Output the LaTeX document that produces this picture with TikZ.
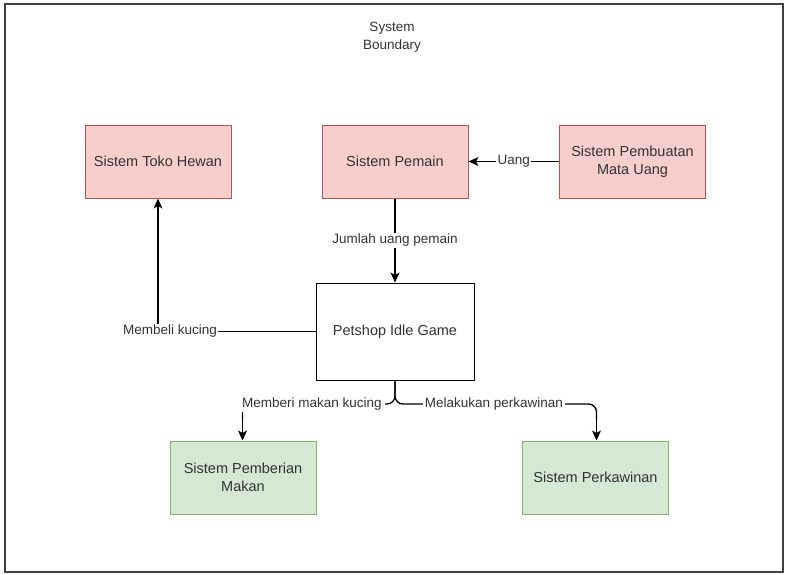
\documentclass[tikz,border=0pt]{standalone}
\usepackage{fontspec}
\setmainfont{Liberation Sans}
\usetikzlibrary{arrows.meta}
\definecolor{redfill}{HTML}{F8CECC}
\definecolor{redline}{HTML}{B85450}
\definecolor{greenfill}{HTML}{D5E8D4}
\definecolor{greenline}{HTML}{82B366}
\definecolor{txt}{HTML}{333333}
\begin{document}
\begin{tikzpicture}[x=1pt,y=-1pt,
  box/.style={draw, line width=1pt, minimum width=146pt, minimum height=73pt,
    align=center, text=txt, font=\fontsize{14.5}{17.5}\selectfont, inner sep=0pt},
  redbox/.style={box, fill=redfill, draw=redline},
  greenbox/.style={box, fill=greenfill, draw=greenline},
  mainbox/.style={box, fill=white, draw=black, minimum width=158pt, minimum height=97pt},
  wire/.style={line width=1.3pt},
  flow/.style={wire, -{Stealth[length=10pt,width=9pt,inset=2.5pt]}},
  lbl/.style={fill=white, text=txt, font=\fontsize{13.5}{15}\selectfont, inner sep=1.5pt}]
\useasboundingbox (0,0) rectangle (785,574);
% system boundary
\draw[line width=1.2pt, draw=black!75] (5,4) rectangle (783,572);
\node[text=txt, font=\fontsize{13.5}{18}\selectfont, align=center] (title) at (392,37) {System\\Boundary};

% processes
\node[redbox] (toko) at (158,161.5) {Sistem Toko Hewan};
\node[redbox] (pemain) at (395,161.5) {Sistem Pemain};
\node[redbox] (uang) at (632.5,161.5) {Sistem Pembuatan\\Mata Uang};
\node[mainbox] (game) at (395,331.5) {Petshop Idle Game};
\node[greenbox] (makan) at (243,477.5) {Sistem Pemberian\\Makan};
\node[greenbox] (kawin) at (595.5,477.5) {Sistem Perkawinan};

% flows
\draw[flow] (uang.west) -- node[lbl] {Uang} (pemain.east);
\draw[flow] (pemain.south) -- node[lbl] {Jumlah uang pemain} (game.north);
\coordinate (beliTurn) at (158,331.5);
\draw[flow] (game.west) -- (beliTurn) -- (toko.south);
\node[lbl] (beliLbl) at (170,331.5) {Membeli kucing};

% split below the game: rounded branches, then straight arrows into the boxes
\coordinate (splitL) at (242.5,404);
\coordinate (splitR) at (596.5,404);
\coordinate (dropL) at (242.5,420);
\coordinate (dropR) at (596.5,420);
\draw[wire, rounded corners=8pt] (game.south) -- (395,404) -- (splitL) -- (dropL);
\draw[wire, rounded corners=8pt] (game.south) -- (395,404) -- (splitR) -- (dropR);
\draw[flow] (dropL) -- (makan.north -| dropL);
\draw[flow] (dropR) -- (kawin.north -| dropR);
\node[lbl, inner xsep=3pt] (makanLbl) at (312,404) {Memberi makan kucing};
\node[lbl] (kawinLbl) at (494,404) {Melakukan perkawinan};
\end{tikzpicture}
\end{document}
